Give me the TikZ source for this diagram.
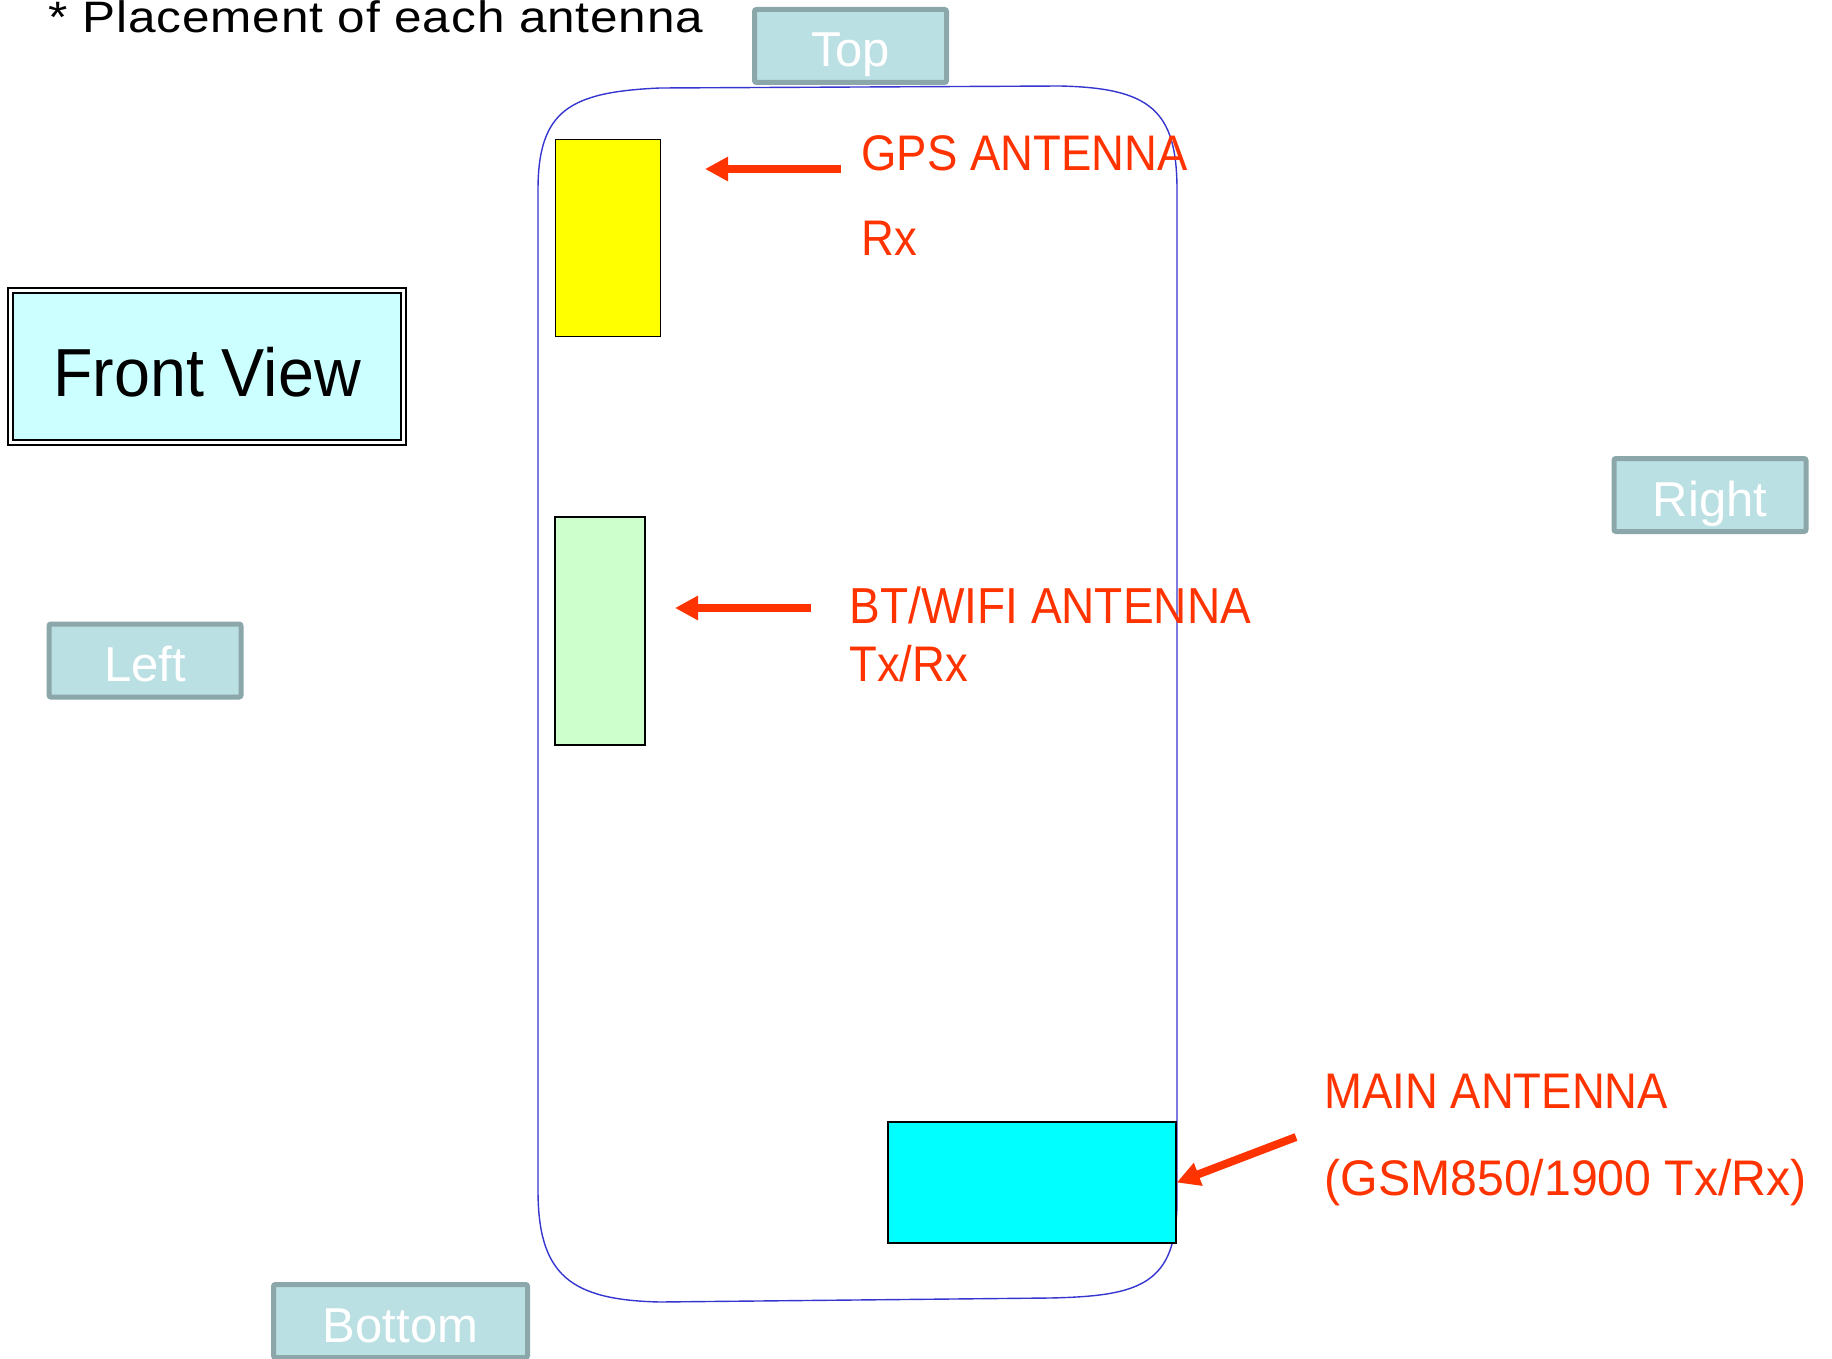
\documentclass[tikz,border=0pt]{standalone}
\usepackage{fontspec}
\setmainfont{Liberation Sans}
\newfontfamily\titlefont[FakeStretch=1.125,LetterSpace=2]{Liberation Sans}
\newfontfamily\redfont[FakeStretch=0.91]{Liberation Sans}
\newfontfamily\redwidefont[FakeStretch=0.965]{Liberation Sans}
\newfontfamily\frontfont[FakeStretch=0.95]{Liberation Sans}
\usetikzlibrary{arrows.meta}
\definecolor{antred}{HTML}{FF3300}
\definecolor{boxfill}{HTML}{BBE0E3}
\definecolor{boxedge}{HTML}{8BA7A9}
\definecolor{frontfill}{HTML}{CCFFFF}
\definecolor{phoneblue}{HTML}{3535CF}
\definecolor{btgreen}{HTML}{CCFFCC}
\definecolor{gpsyellow}{HTML}{FFFF00}
\definecolor{maincyan}{HTML}{00FFFF}
\tikzset{
  sidebox/.style={draw=boxedge, fill=boxfill, line width=2.5pt, rounded corners=1pt,
    minimum width=96pt, minimum height=36.5pt, inner sep=0pt, text=white,
    font=\fontsize{24.5pt}{29pt}\selectfont, text height=21pt, text depth=0pt},
  antlabel/.style={anchor=base west, inner sep=0pt, text=antred,
    font=\redfont\fontsize{25pt}{30pt}\selectfont},
  antbox/.style={draw=black, line width=0.75pt, inner sep=0pt},
  antarrow/.style={draw=antred, line width=4pt,
    -{Triangle[length=11.5pt,width=11.5pt]}},
}
\begin{document}
\begin{tikzpicture}[x=0.5pt,y=-0.5pt]
\useasboundingbox (0,0) rectangle (1832,1359);

% phone outline
\draw[phoneblue, line width=0.7pt]
  (538,700) -- (538,190) .. controls (538,110) and (570,92) .. (660,88)
  -- (1060,86) .. controls (1150,88) and (1177,110) .. (1177,190)
  -- (1177,1200) .. controls (1177,1285) and (1140,1296) .. (1050,1298)
  -- (660,1302) .. controls (570,1300) and (538,1275) .. (538,1190) -- cycle;

% title
\node[anchor=base west, inner sep=0pt, font=\titlefont\fontsize{22pt}{26pt}\selectfont]
  (title) at (48,33) {* Placement of each antenna};

% side labels
\node[sidebox] (top) at (850.5,46) {Top};
\node[sidebox] (left) at (145,660.5) {Left};
\node[sidebox] (right) at (1710,495) {Right};
\node[sidebox, minimum width=127pt] (bottom) at (400.5,1321) {Bottom};

% front view
\node[draw=black, fill=frontfill, line width=1pt, double=white, double distance=1.5pt,
  minimum width=196.5pt, minimum height=76pt, inner sep=0pt,
  font=\frontfont\fontsize{34pt}{40pt}\selectfont, text height=29.5pt, text depth=0pt]
  (front) at (207,366.5) {Front View};

% antennas
\node[antbox, fill=gpsyellow, minimum width=52.5pt, minimum height=98.5pt] (gps) at (608,238) {};
\node[antbox, fill=btgreen, minimum width=45pt, minimum height=114pt] (bt) at (600,631) {};
\node[antbox, fill=maincyan, minimum width=144pt, minimum height=60.5pt] (mainant) at (1032,1182.5) {};

% labels
\node[antlabel] (gpsl) at (861,170) {GPS ANTENNA};
\node[antlabel] (gpsrx) at (861,256) {Rx};
\node[antlabel, font=\redfont\fontsize{25.3pt}{30pt}\selectfont] (btl) at (849,623) {BT/WIFI ANTENNA};
\node[antlabel] (btrx) at (849,681) {Tx/Rx};
\node[antlabel] (mainl) at (1324,1108) {MAIN ANTENNA};
\node[antlabel, font=\redwidefont\fontsize{25pt}{30pt}\selectfont] (mainsub) at (1324,1195) {(GSM850/1900 Tx/Rx)};

% arrows
\coordinate (gpsT) at (841,169);
\coordinate (gpsH) at (705,169);
\coordinate (btT) at (811,608);
\coordinate (btH) at (675,608);
\coordinate (mainT) at (1296,1137);
\draw[antarrow] (gpsT) -- (gpsH);
\draw[antarrow] (btT) -- (btH);
\draw[antarrow] (mainT) -- (mainant.east);
\end{tikzpicture}
\end{document}
